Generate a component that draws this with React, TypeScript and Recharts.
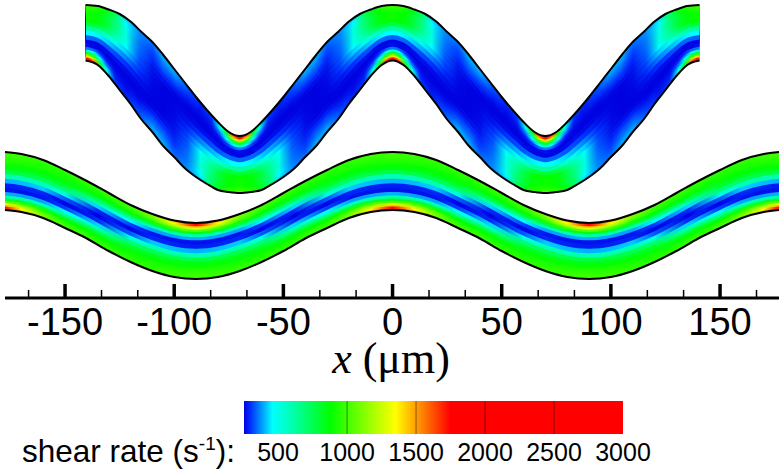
import React from 'react';
import { Area, Bar, BarChart, ComposedChart, Line, ReferenceLine, XAxis, YAxis } from 'recharts';

const SANS = '"Liberation Sans", Arial, sans-serif';
const SERIF = '"Liberation Serif", "Times New Roman", serif';

// x axis, um
const MAJOR_TICKS = [-150, -100, -50, 0, 50, 100, 150];
const MINOR_TICKS = [-166.7, -133.3, -116.7, -83.3, -66.7, -33.3, -16.7, 16.7, 33.3, 66.7, 83.3, 116.7, 133.3, 166.7];

// colour legend
const LEGEND_TICKS = [500, 1000, 1500, 2000, 2500, 3000];
const LEGEND_LINES = [1000, 1500, 2000, 2500];
const SHEAR_MIN = 253;
const SHEAR_MAX = 3000;
const COLOR_STOPS: [number, string][] = [
  [253, '#0000e0'], [300, '#0030ff'], [460, '#00ffff'], [600, '#00ffb0'],
  [880, '#00ff00'], [1350, '#ffff00'], [1750, '#ff0000'], [3000, '#ff0000'],
];

// fraction across the channel, lower wall = 0, upper wall = 1
const BAND_EDGES = [0, .03, .06, .09, .12, .16, .2, .25, .31, .38, .46, .54, .62, .69, .75, .8, .84, .88, .91, .94, .97, 1];

// upper channel, walls read every 5 um from a crest to the next trough
const TOP_DIST = [0, 5, 10, 15, 20, 25, 30, 35, 40, 45, 50, 55, 60, 65, 70];
const TOP_UPPER = [293, 292, 288.5, 284, 276.5, 266, 256, 243, 229, 215, 201, 188, 176, 166, 162];
const TOP_LOWER = [237.5, 233, 222, 208, 194, 178.5, 166, 152, 141, 129.5, 121, 114, 108, 106, 105];

// shear rate per band (lower wall first) at a distance from the crest
const TOP_COLUMNS = [0, 3, 6, 9, 13, 18, 24, 30, 35];
const TOP_SHEAR = [
  [2400, 1900, 1400, 1100, 800, 520, 360, 270, 260, 340, 460, 620, 800, 880, 900, 900, 900, 920, 940, 960, 1000],
  [1900, 1500, 1200, 950, 720, 480, 340, 260, 260, 340, 460, 620, 790, 870, 890, 890, 890, 910, 930, 950, 990],
  [1000, 850, 720, 600, 480, 370, 300, 260, 260, 340, 450, 600, 770, 850, 860, 860, 870, 880, 900, 920, 940],
  [560, 500, 450, 400, 350, 300, 270, 255, 265, 330, 430, 560, 700, 780, 800, 800, 800, 810, 830, 845, 860],
  [320, 300, 290, 280, 275, 265, 258, 255, 270, 320, 400, 500, 600, 650, 680, 690, 700, 710, 720, 735, 750],
  [285, 280, 275, 270, 265, 260, 255, 255, 265, 300, 360, 420, 470, 500, 510, 510, 500, 490, 470, 450, 430],
  [330, 320, 310, 300, 285, 270, 258, 254, 258, 270, 290, 310, 325, 335, 345, 350, 355, 360, 365, 370, 370],
  [400, 385, 370, 350, 330, 305, 280, 258, 254, 256, 258, 262, 268, 275, 285, 295, 305, 315, 325, 335, 345],
  [400, 385, 370, 355, 340, 320, 295, 270, 255, 253, 253, 253, 255, 270, 295, 320, 340, 355, 370, 385, 400],
];

// lower channel
const LOW_X = [-177.5, -170, -160, -150, -140, -130, -120, -110, -100, -90, -80, -70, -60, -50, -40, -30, -20, -10, 0, 10, 20, 30, 40, 50, 60, 70, 80, 90, 100, 110, 120, 130, 140, 150, 160, 170, 177];
const LOW_UPPER = [146, 144, 138, 128, 117, 105, 93, 84, 77.5, 75, 77.5, 84, 93, 105, 117, 128, 138, 144, 146, 144, 138, 128, 117, 105, 93, 84, 77.5, 75, 77.5, 84, 93, 105, 117, 128, 138, 144, 146];
const LOW_LOWER = [88, 86, 80, 70, 59.5, 47, 36, 27, 21, 19, 21, 27, 36, 47, 59.5, 70, 80, 86, 88, 86, 80, 70, 59.5, 47, 36, 27, 21, 19, 21, 27, 36, 47, 59.5, 70, 80, 86, 88];

const LOW_COLUMNS = [0, 10, 20, 30, 45];
const LOW_SHEAR = [
  [1900, 1750, 1450, 1300, 1050, 850, 620, 400, 270, 280, 400, 600, 780, 860, 900, 930, 950, 965, 980, 990, 1000],
  [1450, 1350, 1250, 1150, 1000, 820, 600, 390, 270, 285, 410, 600, 770, 850, 890, 920, 940, 955, 970, 980, 990],
  [1100, 1080, 1050, 1000, 920, 780, 590, 390, 275, 290, 420, 590, 750, 830, 875, 905, 925, 940, 950, 960, 970],
  [1000, 980, 960, 930, 880, 790, 650, 470, 310, 258, 330, 520, 700, 800, 855, 890, 910, 925, 940, 950, 960],
  [970, 955, 940, 920, 890, 840, 750, 600, 430, 290, 253, 290, 430, 600, 750, 840, 890, 920, 940, 955, 970],
];

const TOP_X_MIN = -140.6;
const TOP_X_MAX = 140.6;
const LOW_X_MIN = LOW_X[0];
const LOW_X_MAX = LOW_X[LOW_X.length - 1];
const BANDS = BAND_EDGES.slice(0, -1).map((_, i) => i);

const hex = (c: string) => [1, 3, 5].map(i => parseInt(c.slice(i, i + 2), 16));

const shearColor = (v: number) => {
  for (let i = 1; i < COLOR_STOPS.length; i++) {
    const [v1, c1] = COLOR_STOPS[i];
    if (v <= v1) {
      const [v0, c0] = COLOR_STOPS[i - 1];
      const t = Math.max(0, (v - v0) / (v1 - v0));
      const a = hex(c0);
      const b = hex(c1);
      return `rgb(${a.map((p, j) => Math.round(p + (b[j] - p) * t)).join(',')})`;
    }
  }
  return COLOR_STOPS[COLOR_STOPS.length - 1][1];
};

const withBands = (x: number, upper: number, lower: number) => {
  const row: any = { x, upper, lower };
  BANDS.forEach(k => {
    row[`b${k}`] = [lower + BAND_EDGES[k] * (upper - lower), upper];
  });
  return row;
};

// the channel repeats with its walls swapped every half period
const topRows = [-140, -135, -130, -125, -120, -115, -110, -105, -100, -95, -90, -85, -80, -75, -70, -65, -60, -55, -50, -45, -40, -35, -30, -25, -20, -15, -10, -5, 0, 5, 10, 15, 20, 25, 30, 35, 40, 45, 50, 55, 60, 65, 70, 75, 80, 85, 90, 95, 100, 105, 110, 115, 120, 125, 130, 135, 140].map(x => {
  const a = Math.abs(x);
  const d = a > 70 ? 140 - a : a;
  const i = TOP_DIST.indexOf(d);
  const drawnX = x === -140 ? TOP_X_MIN : x === 140 ? TOP_X_MAX : x;
  return withBands(drawnX, TOP_UPPER[i], TOP_LOWER[i]);
});

const lowRows = LOW_X.map((x, i) => withBands(x, LOW_UPPER[i], LOW_LOWER[i]));

const bandStops = (
  k: number,
  period: number,
  columns: number[],
  shear: number[][],
  xMin: number,
  xMax: number,
) => {
  const half = period / 2;
  const last = BANDS.length - 1;
  const stops: { x: number; v: number }[] = [];
  for (let m = -2; m <= 2; m++) {
    columns.forEach((c, j) => {
      // crest side
      stops.push({ x: m * period - c, v: shear[j][k] });
      stops.push({ x: m * period + c, v: shear[j][k] });
      // trough side, walls swapped
      stops.push({ x: m * period + half - c, v: shear[j][last - k] });
      stops.push({ x: m * period + half + c, v: shear[j][last - k] });
    });
  }
  return stops
    .filter(s => s.x >= xMin - half / 2 && s.x <= xMax + half / 2)
    .sort((a, b) => a.x - b.x)
    .map(s => ({ offset: (s.x - xMin) / (xMax - xMin), color: shearColor(s.v) }));
};

const BandGradient = ({ id, stops }: { id: string; stops: { offset: number; color: string }[] }) => (
  <linearGradient id={id} x1="0" x2="1" y1="0" y2="0">
    {stops.map((s, i) => (
      <stop key={i} offset={Math.min(1, Math.max(0, s.offset))} stopColor={s.color} />
    ))}
  </linearGradient>
);

const AxisTick = ({ x, y, payload }: any) => {
  const major = MAJOR_TICKS.includes(payload.value);
  return (
    <g>
      <line x1={x} x2={x} y1={y} y2={y - (major ? 14 : 8)} stroke="#000" strokeWidth={major ? 3.5 : 1.5} />
      {major && (
        <text x={x} y={y + 37} textAnchor="middle" fontFamily={SANS} fontSize={38} fill="#000">
          {payload.value}
        </text>
      )}
    </g>
  );
};

const LegendTick = ({ x, y, payload }: any) => (
  <text x={x} y={y + 27} textAnchor="middle" fontFamily={SANS} fontSize={25} fill="#000">
    {payload.value}
  </text>
);

export default function App() {
  return (
    <div style={{ position: 'absolute', left: 0, top: 0, width: 784, height: 474, background: '#fff' }}>
      <div style={{ position: 'absolute', left: 0, top: 0 }}>
        <ComposedChart width={784} height={390} margin={{ top: 0, right: 5, bottom: 0, left: 5 }}>
          <defs>
            {BANDS.map(k => (
              <BandGradient key={k} id={`top${k}`} stops={bandStops(k, 140, TOP_COLUMNS, TOP_SHEAR, TOP_X_MIN, TOP_X_MAX)} />
            ))}
            {BANDS.map(k => (
              <BandGradient key={k} id={`low${k}`} stops={bandStops(k, 180, LOW_COLUMNS, LOW_SHEAR, LOW_X_MIN, LOW_X_MAX)} />
            ))}
          </defs>
          <XAxis
            dataKey="x"
            type="number"
            domain={[-177.5, 177]}
            ticks={[...MAJOR_TICKS, ...MINOR_TICKS].sort((a, b) => a - b)}
            interval={0}
            height={92}
            tickLine={false}
            tickSize={0}
            tickMargin={0}
            tick={AxisTick}
            axisLine={{ stroke: '#000', strokeWidth: 3 }}
            allowDuplicatedCategory={false}
          />
          <YAxis hide type="number" domain={[0, 298]} />
          {BANDS.map(k => (
            <Area key={k} data={topRows} dataKey={`b${k}`} type="monotone" fill={`url(#top${k})`} fillOpacity={1} stroke="none" dot={false} activeDot={false} isAnimationActive={false} />
          ))}
          {BANDS.map(k => (
            <Area key={k} data={lowRows} dataKey={`b${k}`} type="monotone" fill={`url(#low${k})`} fillOpacity={1} stroke="none" dot={false} activeDot={false} isAnimationActive={false} />
          ))}
          <Line data={topRows} dataKey="upper" type="monotone" stroke="#000" strokeWidth={2} dot={false} activeDot={false} isAnimationActive={false} />
          <Line data={topRows} dataKey="lower" type="monotone" stroke="#000" strokeWidth={2} dot={false} activeDot={false} isAnimationActive={false} />
          <Line data={lowRows} dataKey="upper" type="monotone" stroke="#000" strokeWidth={2} dot={false} activeDot={false} isAnimationActive={false} />
          <Line data={lowRows} dataKey="lower" type="monotone" stroke="#000" strokeWidth={2} dot={false} activeDot={false} isAnimationActive={false} />
          <text x={391} y={373} textAnchor="middle" fontFamily={SERIF} fontSize={44} fill="#000">
            <tspan fontStyle="italic">x</tspan>
            <tspan> (μm)</tspan>
          </text>
        </ComposedChart>
      </div>
      <div style={{ position: 'absolute', left: 0, top: 395 }}>
        <BarChart
          width={784}
          height={79}
          layout="vertical"
          data={[{ name: 'shear', range: [SHEAR_MIN, SHEAR_MAX] }]}
          margin={{ top: 6, right: 161, bottom: 0, left: 244 }}
          barCategoryGap={0}
        >
          <defs>
            <linearGradient id="legendFill" x1="0" x2="1" y1="0" y2="0">
              {COLOR_STOPS.map(([v, c]) => (
                <stop key={v} offset={(v - SHEAR_MIN) / (SHEAR_MAX - SHEAR_MIN)} stopColor={c} />
              ))}
            </linearGradient>
          </defs>
          <XAxis
            type="number"
            domain={[SHEAR_MIN, SHEAR_MAX]}
            ticks={LEGEND_TICKS}
            interval={0}
            height={40}
            axisLine={false}
            tickLine={false}
            tickSize={0}
            tickMargin={0}
            tick={LegendTick}
          />
          <YAxis hide type="category" dataKey="name" />
          <Bar dataKey="range" fill="url(#legendFill)" isAnimationActive={false} />
          {LEGEND_LINES.map(v => (
            <ReferenceLine key={v} x={v} stroke="#000" strokeOpacity={0.45} strokeWidth={1} />
          ))}
          <text x={22} y={67} fontFamily={SANS} fontSize={31.5} fill="#000">
            shear rate (s<tspan fontSize={19} dy={-12}>-1</tspan><tspan dy={12}>):</tspan>
          </text>
        </BarChart>
      </div>
    </div>
  );
}
